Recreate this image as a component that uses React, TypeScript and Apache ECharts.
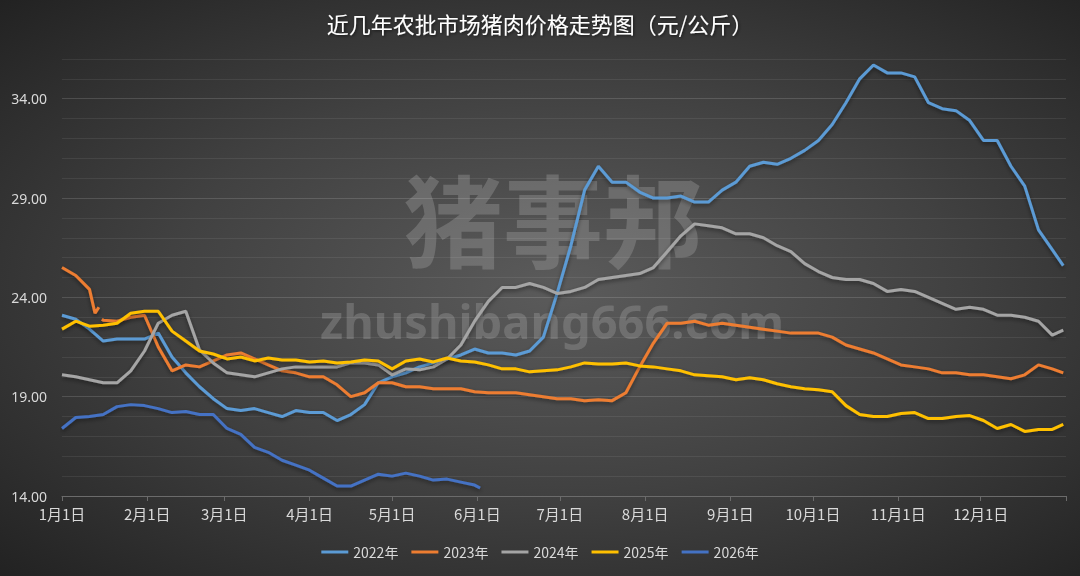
import React, { useEffect, useRef } from 'react';
import * as echarts from 'echarts';

// Day-of-year sample positions (0 = 1月1日)
const DAYS = [
  0, 5, 10, 15, 20, 25, 30, 35, 40, 45, 50, 55, 60, 65, 70, 75, 80, 85, 90, 95,
  100, 105, 110, 115, 120, 125, 130, 135, 140, 145, 150, 155, 160, 165, 170, 175,
  180, 185, 190, 195, 200, 205, 210, 215, 220, 225, 230, 235, 240, 245, 250, 255,
  260, 265, 270, 275, 280, 285, 290, 295, 300, 305, 310, 315, 320, 325, 330, 335,
  340, 345, 350, 355, 360, 364,
];
const DAYS_2026 = [
  0, 5, 10, 15, 20, 25, 30, 35, 40, 45, 50, 55, 60, 65, 70, 75, 80, 85, 90, 95,
  100, 105, 110, 115, 120, 125, 130, 135, 140, 145, 150, 152,
];

const MONTH_DAYS = [0, 31, 59, 90, 120, 151, 181, 212, 243, 273, 304, 334];
const MONTH_LABELS = ['1月1日', '2月1日', '3月1日', '4月1日', '5月1日', '6月1日', '7月1日', '8月1日', '9月1日', '10月1日', '11月1日', '12月1日'];
const Y_LABELS = [14, 19, 24, 29, 34];

const SERIES_NAMES = ['2022年', '2023年', '2024年', '2025年', '2026年'];
const COLORS = ['#5B9BD5', '#ED7D31', '#A5A5A5', '#FFC000', '#4472C4'];

const Y2022 = [
  23.1, 22.9, 22.4, 21.8, 21.9, 21.9, 21.9, 22.2, 21.0, 20.2, 19.5, 18.9, 18.4, 18.3, 18.4, 18.2, 18.0, 18.3, 18.2, 18.2,
  17.8, 18.1, 18.6, 19.7, 20.0, 20.2, 20.5, 20.7, 20.9, 21.1, 21.4, 21.2, 21.2, 21.1, 21.3, 22.0,
  24.2, 26.6, 29.4, 30.6, 29.8, 29.8, 29.3, 29.0, 29.0, 29.1, 28.8, 28.8, 29.4, 29.8, 30.6, 30.8,
  30.7, 31.0, 31.4, 31.9, 32.7, 33.8, 35.0, 35.7, 35.3, 35.3, 35.1, 33.8, 33.5, 33.4, 32.9, 31.9,
  31.9, 30.6, 29.6, 27.4, 26.4, 25.6,
];
const Y2023 = [
  25.5, 25.1, 24.4, 22.85, 22.8, 23.0, 23.1, 21.5, 20.3, 20.6, 20.5, 20.8, 21.1, 21.2, 20.9, 20.6, 20.3, 20.2, 20.0, 20.0,
  19.6, 19.0, 19.2, 19.7, 19.7, 19.5, 19.5, 19.4, 19.4, 19.4, 19.25, 19.2, 19.2, 19.2, 19.1, 19.0,
  18.9, 18.9, 18.8, 18.85, 18.8, 19.2, 20.5, 21.7, 22.7, 22.7, 22.8, 22.6, 22.7, 22.6, 22.5, 22.4,
  22.3, 22.2, 22.2, 22.2, 22.0, 21.6, 21.4, 21.2, 20.9, 20.6, 20.5, 20.4, 20.2, 20.2, 20.1, 20.1,
  20.0, 19.9, 20.1, 20.6, 20.4, 20.2,
];
// short break in the 2023 line in mid-January
const GAP_DAYS_2023 = [12, 13.4, 13.9, 14.5];
const GAP_VALUES_2023 = [23.2, 23.5, null, 22.9];
const Y2024 = [
  20.1, 20.0, 19.85, 19.7, 19.7, 20.3, 21.3, 22.7, 23.1, 23.3, 21.35, 20.7, 20.2, 20.1, 20.0, 20.2, 20.4, 20.5, 20.5, 20.5,
  20.5, 20.7, 20.7, 20.6, 20.1, 20.4, 20.35, 20.5, 20.9, 21.6, 22.8, 23.8, 24.5, 24.5, 24.7, 24.5,
  24.2, 24.3, 24.5, 24.9, 25.0, 25.1, 25.2, 25.5, 26.3, 27.1, 27.7, 27.6, 27.5, 27.2, 27.2, 27.0,
  26.6, 26.3, 25.7, 25.3, 25.0, 24.9, 24.9, 24.7, 24.3, 24.4, 24.3, 24.0, 23.7, 23.4, 23.5, 23.4,
  23.1, 23.1, 23.0, 22.8, 22.1, 22.35,
];
const Y2025 = [
  22.4, 22.8, 22.55, 22.6, 22.7, 23.2, 23.3, 23.3, 22.3, 21.8, 21.3, 21.15, 20.9, 21.0, 20.8, 20.95, 20.85, 20.85, 20.75, 20.8,
  20.7, 20.75, 20.85, 20.8, 20.4, 20.8, 20.9, 20.75, 20.95, 20.8, 20.75, 20.6, 20.4, 20.4, 20.25, 20.3,
  20.35, 20.5, 20.7, 20.65, 20.65, 20.7, 20.55, 20.5, 20.4, 20.3, 20.1, 20.05, 20.0, 19.85, 19.95, 19.85,
  19.65, 19.5, 19.4, 19.35, 19.25, 18.55, 18.1, 18.0, 18.0, 18.15, 18.2, 17.9, 17.9, 18.0, 18.05, 17.8,
  17.4, 17.6, 17.25, 17.35, 17.35, 17.6,
];
const Y2026 = [
  17.4, 17.95, 18.0, 18.1, 18.5, 18.6, 18.55, 18.4, 18.2, 18.25, 18.1, 18.1, 17.4, 17.1, 16.45, 16.2, 15.8, 15.55, 15.3, 14.9,
  14.5, 14.5, 14.8, 15.1, 15.0, 15.15, 15.0, 14.8, 14.85, 14.7, 14.55, 14.4,
];

const pairs = (days: number[], vals: (number | null)[]) => vals.map((v, i) => [days[i], v]);

function buildData() {
  const d2023 = pairs(DAYS, Y2023).concat(pairs(GAP_DAYS_2023, GAP_VALUES_2023));
  d2023.sort((a, b) => (a[0] as number) - (b[0] as number));
  return [
    pairs(DAYS, Y2022),
    d2023,
    pairs(DAYS, Y2024),
    pairs(DAYS, Y2025),
    pairs(DAYS_2026, Y2026),
  ];
}

export default function App() {
  const ref = useRef<HTMLDivElement>(null);
  useEffect(() => {
    if (!ref.current) return;
    const chart = echarts.init(ref.current, undefined, { renderer: 'svg' });
    const data = buildData();
    const minor = 'rgba(255,255,255,0.075)';
    const major = 'rgba(255,255,255,0.14)';
    chart.setOption({
      animation: false,
      backgroundColor: 'transparent',
      title: {
        text: '近几年农批市场猪肉价格走势图（元/公斤）',
        left: 'center',
        top: 7,
        textStyle: {
          color: '#ffffff',
          fontSize: 22,
          fontWeight: 'normal',
          fontFamily: '"Noto Sans CJK SC", sans-serif',
          textShadowColor: 'rgba(0,0,0,0.6)',
          textShadowBlur: 3,
          textShadowOffsetX: 1,
          textShadowOffsetY: 1,
        },
      },
      legend: {
        data: SERIES_NAMES,
        bottom: 12,
        left: 'center',
        icon: 'rect',
        itemWidth: 27,
        itemHeight: 3,
        itemGap: 13,
        textStyle: { color: '#d9d9d9', fontSize: 14, fontFamily: '"Noto Sans CJK SC", sans-serif' },
      },
      grid: { left: 62, right: 14, top: 59, bottom: 80 },
      graphic: [
        {
          type: 'text',
          x: 553,
          y: 216,
          z: 0,
          silent: true,
          style: {
            text: '猪事邦',
            fill: 'rgba(150,150,150,0.42)',
            font: 'bold 100px "Noto Sans CJK SC", sans-serif',
            align: 'center',
            verticalAlign: 'middle',
          },
        },
        {
          type: 'text',
          x: 552,
          y: 321,
          z: 0,
          silent: true,
          style: {
            text: 'zhushibang666.com',
            fill: 'rgba(150,150,150,0.42)',
            font: 'bold 47px "Noto Sans", sans-serif',
            align: 'center',
            verticalAlign: 'middle',
          },
        },
      ],
      xAxis: {
        type: 'value',
        min: 0,
        max: 365,
        axisLine: { show: true, lineStyle: { color: '#6b6b6b', width: 1 } },
        axisTick: { show: true, customValues: [...MONTH_DAYS, 365], length: 5, lineStyle: { color: '#6b6b6b' } },
        axisLabel: {
          customValues: MONTH_DAYS,
          formatter: (v: number) => MONTH_LABELS[MONTH_DAYS.indexOf(v)] ?? '',
          color: '#d9d9d9',
          fontSize: 15,
          margin: 10,
          fontFamily: '"Noto Sans CJK SC", sans-serif',
        },
        splitLine: { show: false },
      },
      yAxis: {
        type: 'value',
        min: 14,
        max: 36,
        interval: 1,
        axisLine: { show: false },
        axisTick: { show: false },
        axisLabel: {
          customValues: Y_LABELS,
          formatter: (v: number) => v.toFixed(2),
          color: '#d9d9d9',
          fontSize: 14,
          margin: 15,
          fontFamily: '"Noto Sans", sans-serif',
        },
        splitLine: { show: true, lineStyle: { color: [major, minor, minor, minor, minor], width: 1 } },
      },
      series: SERIES_NAMES.map((name, i) => ({
        name,
        type: 'line',
        data: data[i],
        showSymbol: false,
        symbol: 'none',
        connectNulls: false,
        z: 2 + i,
        lineStyle: {
          color: COLORS[i],
          width: 3,
          shadowColor: 'rgba(0,0,0,0.45)',
          shadowBlur: 4,
          shadowOffsetY: 2,
        },
        itemStyle: { color: COLORS[i] },
      })),
    });
    return () => chart.dispose();
  }, []);
  return (
    <div
      style={{
        position: 'fixed',
        left: 0,
        top: 0,
        width: 1080,
        height: 576,
        background: 'radial-gradient(ellipse at 52% 50%, #5b5b5b 0%, #414141 50%, #222222 100%)',
      }}
    >
      <div ref={ref} style={{ width: 1080, height: 576 }} />
    </div>
  );
}
